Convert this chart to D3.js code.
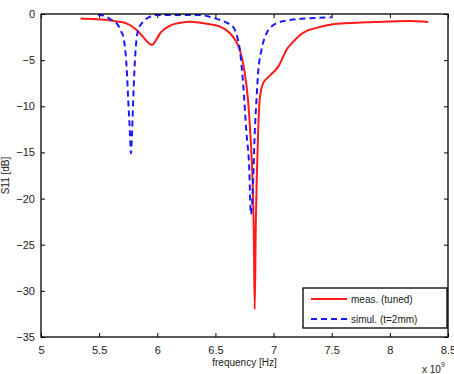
<!DOCTYPE html>
<html>
<head>
<meta charset="utf-8">
<script src="https://cdn.jsdelivr.net/npm/d3@7"></script>
<style>
  body { margin: 0; background: #fff; }
  svg text { font-family: "Liberation Sans", Arial, sans-serif; fill: #222; }
</style>
</head>
<body>
<svg id="chart" width="454" height="374"></svg>
<script>
// frequency in units of 1e9 Hz, S11 in dB
const measFreq = [5.34, 5.45, 5.55, 5.65, 5.74, 5.82, 5.88, 5.93, 5.955, 5.99, 6.03, 6.11, 6.2, 6.28, 6.37, 6.45, 6.54, 6.6, 6.65, 6.71, 6.75, 6.78, 6.8, 6.82, 6.83, 6.838, 6.847, 6.855, 6.867, 6.88, 6.91, 6.95, 6.99, 7.04, 7.08, 7.11, 7.17, 7.225, 7.3, 7.37, 7.45, 7.51, 7.65, 7.8, 8.0, 8.17, 8.33];
const measS11 = [-0.5, -0.55, -0.62, -0.8, -1.05, -1.7, -2.5, -3.2, -3.35, -2.8, -2.0, -1.25, -0.95, -0.85, -0.95, -1.1, -1.37, -1.8, -2.45, -3.9, -6.2, -9.3, -12.9, -18.3, -23.8, -32, -23, -18, -12.9, -9.3, -7.5, -6.9, -6.4, -5.7, -4.7, -3.9, -3.0, -2.3, -1.75, -1.5, -1.25, -1.1, -0.98, -0.9, -0.8, -0.76, -0.87];

const simFreq = [5.49, 5.55, 5.6, 5.65, 5.69, 5.71, 5.736, 5.75, 5.765, 5.773, 5.783, 5.793, 5.808, 5.836, 5.879, 5.936, 5.99, 6.1, 6.25, 6.37, 6.45, 6.54, 6.6, 6.652, 6.69, 6.71, 6.738, 6.767, 6.79, 6.805, 6.824, 6.838, 6.853, 6.867, 6.896, 6.939, 6.98, 7.025, 7.14, 7.31, 7.5];
const simS11 = [-0.07, -0.2, -0.6, -1.0, -1.9, -2.6, -5.7, -9.3, -12.9, -15.1, -12.9, -9.3, -5.0, -1.7, -0.83, -0.3, -0.12, -0.1, -0.1, -0.12, -0.3, -0.65, -0.95, -1.4, -2.6, -3.9, -7.5, -12.9, -16.5, -21.7, -18.3, -12.9, -9.3, -6.4, -3.9, -2.1, -1.4, -1.0, -0.65, -0.47, -0.36];

const xTicks = [5, 5.5, 6, 6.5, 7, 7.5, 8, 8.5];
const yTicks = [0, -5, -10, -15, -20, -25, -30, -35];
const legendLabels = ["meas. (tuned)", "simul. (t=2mm)"];

const box = { left: 41, right: 448, top: 14, bottom: 337 };

const svg = d3.select("#chart");

const x = d3.scaleLinear().domain([5, 8.5]).range([box.left, box.right]);
const y = d3.scaleLinear().domain([-35, 0]).range([box.bottom, box.top]);

const line = d3.line()
  .x(d => x(d[0]))
  .y(d => y(d[1]))
  .curve(d3.curveMonotoneX);

const meas = measFreq.map((f, i) => [f, measS11[i]]);
const sim = simFreq.map((f, i) => [f, simS11[i]]);

// axes (matlab style: inward ticks on all sides)
const fmt = d => d < 0 ? "\u2212" + Math.abs(d) : d;

svg.append("g")
  .attr("transform", `translate(0,${box.bottom})`)
  .call(d3.axisBottom(x).tickValues(xTicks).tickSize(-4).tickPadding(9).tickFormat(fmt))
  .call(g => g.select(".domain").remove())
  .call(g => g.selectAll("text").attr("font-size", 11).attr("fill", "#222"));

svg.append("g")
  .attr("transform", `translate(${box.left},0)`)
  .call(d3.axisLeft(y).tickValues(yTicks).tickSize(-4).tickPadding(6).tickFormat(fmt))
  .call(g => g.select(".domain").remove())
  .call(g => g.selectAll("text").attr("font-size", 11).attr("fill", "#222"));

svg.append("g")
  .attr("transform", `translate(0,${box.top})`)
  .call(d3.axisTop(x).tickValues(xTicks).tickSize(-4).tickFormat(""))
  .call(g => g.select(".domain").remove());

svg.append("g")
  .attr("transform", `translate(${box.right},0)`)
  .call(d3.axisRight(y).tickValues(yTicks).tickSize(-4).tickFormat(""))
  .call(g => g.select(".domain").remove());

svg.selectAll(".tick line").attr("stroke", "#000");

// lines
svg.append("path")
  .datum(meas)
  .attr("fill", "none")
  .attr("stroke", "#ff1a1a")
  .attr("stroke-width", 2)
  .attr("d", line);

svg.append("path")
  .datum(sim)
  .attr("fill", "none")
  .attr("stroke", "#1a1aff")
  .attr("stroke-width", 2)
  .attr("stroke-dasharray", "6,4")
  .attr("d", line);

// frame
svg.append("rect")
  .attr("x", box.left).attr("y", box.top)
  .attr("width", box.right - box.left).attr("height", box.bottom - box.top)
  .attr("fill", "none")
  .attr("stroke", "#000")
  .attr("stroke-width", 1.3);

// labels
svg.append("text")
  .attr("x", (box.left + box.right) / 2).attr("y", 366)
  .attr("text-anchor", "middle")
  .attr("font-size", 10)
  .text("frequency [Hz]");

svg.append("text")
  .attr("transform", `translate(9,${(box.top + box.bottom) / 2}) rotate(-90)`)
  .attr("text-anchor", "middle")
  .attr("font-size", 10)
  .text("S11 [dB]");

const mult = svg.append("text")
  .attr("x", 422).attr("y", 373)
  .attr("font-size", 10);
mult.append("tspan").text("x 10");
mult.append("tspan").attr("dy", -6).attr("font-size", 7).text("9");

// legend
const lg = svg.append("g");
lg.append("rect")
  .attr("x", 303).attr("y", 288)
  .attr("width", 144).attr("height", 40)
  .attr("fill", "#fff")
  .attr("stroke", "#000")
  .attr("stroke-width", 1.3);

const legendStyle = [
  { color: "#ff1a1a", dash: null },
  { color: "#1a1aff", dash: "6,4" }
];

legendLabels.forEach((lab, i) => {
  const yy = 299 + i * 20;
  lg.append("line")
    .attr("x1", 311).attr("x2", 347)
    .attr("y1", yy).attr("y2", yy)
    .attr("stroke", legendStyle[i].color)
    .attr("stroke-width", 2)
    .attr("stroke-dasharray", legendStyle[i].dash);
  lg.append("text")
    .attr("x", 351).attr("y", yy + 3.5)
    .attr("font-size", 10)
    .text(lab);
});
</script>
</body>
</html>
